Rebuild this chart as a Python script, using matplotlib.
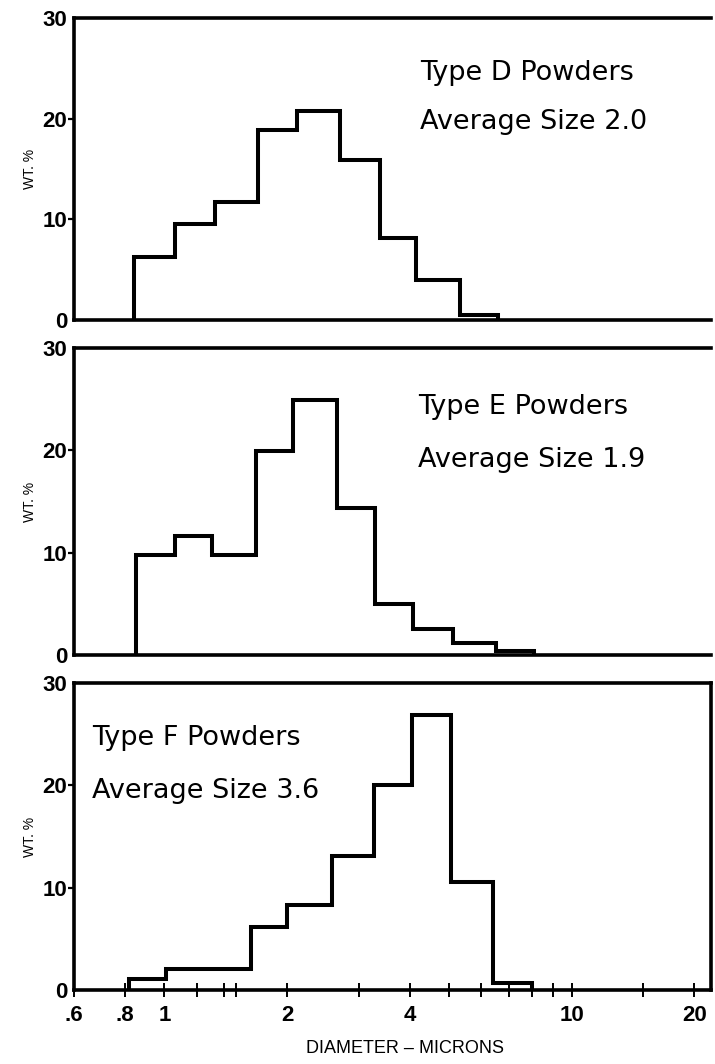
import matplotlib
matplotlib.use('Agg')
import matplotlib.pyplot as plt
from matplotlib.ticker import NullLocator

# bin edges (microns) and wt %
d_edges = [0.84, 1.06, 1.33, 1.70, 2.12, 2.70, 3.38, 4.16, 5.32, 6.60]
d_wt = [6.3, 9.5, 11.7, 18.9, 20.8, 15.9, 8.2, 4.0, 0.5]

e_edges = [0.85, 1.06, 1.31, 1.68, 2.07, 2.66, 3.29, 4.08, 5.11, 6.53, 8.08]
e_wt = [9.8, 11.6, 9.8, 19.9, 24.9, 14.4, 5.0, 2.5, 1.2, 0.4]

f_edges = [0.82, 1.01, 1.63, 2.00, 2.58, 3.27, 4.05, 5.05, 6.40, 8.00]
f_wt = [1.1, 2.1, 6.2, 8.3, 13.1, 20.0, 26.9, 10.6, 0.7]

titles = ['Type D Powders', 'Type E Powders', 'Type F Powders']
subtitles = ['Average Size 2.0', 'Average Size 1.9', 'Average Size 3.6']

x_ticks = [0.6, 0.8, 1, 1.2, 1.4, 1.5, 2, 3, 4, 5, 6, 7, 8, 9, 10, 15, 20]
x_labels = ['.6', '.8', '1', '', '', '', '2', '', '4', '', '', '', '', '', '10', '', '20']
y_ticks = [0, 10, 20, 30]

narrow = ['Liberation Sans', 'DejaVu Sans']

fig = plt.figure(figsize=(7.15, 10.64), dpi=100)

# [left, bottom, width, height], text anchor x/y in axes coords
panels = [
    ([0.1035, 0.6992, 0.891, 0.2838], 0.543, 0.818, 0.656),
    ([0.1035, 0.3844, 0.891, 0.2885], 0.540, 0.808, 0.635),
    ([0.1035, 0.0695, 0.891, 0.2885], 0.028, 0.820, 0.650),
]
data = [(d_edges, d_wt), (e_edges, e_wt), (f_edges, f_wt)]

for i, (rect, tx, ty1, ty2) in enumerate(panels):
    ax = fig.add_axes(rect)
    edges, wt = data[i]
    ax.stairs(wt, edges, baseline=0, color='black', lw=2.9)
    ax.set_xscale('log')
    ax.set_xlim(0.6, 22)
    ax.set_ylim(0, 30)

    for side in ['top', 'left', 'bottom', 'right']:
        ax.spines[side].set_linewidth(2.6)
    if i < 2:
        ax.spines['right'].set_visible(False)

    ax.set_yticks(y_ticks)
    ax.set_yticklabels([str(v) for v in y_ticks], family=narrow,
                       fontweight='bold', fontsize=16)
    ax.tick_params(axis='y', direction='out', length=4, width=1.6, pad=1)
    ticks = ax.yaxis.get_major_ticks()
    ticks[0].tick1line.set_visible(False)
    ticks[-1].tick1line.set_visible(False)
    ax.set_ylabel('WT. %', fontsize=10, family=narrow, labelpad=4)

    ax.xaxis.set_minor_locator(NullLocator())
    if i < 2:
        ax.set_xticks([])
    else:
        ax.set_xticks(x_ticks)
        ax.set_xticklabels(x_labels, family=narrow, fontweight='bold', fontsize=16)
        ax.tick_params(axis='x', direction='inout', length=10, width=1.4, pad=6)
        ax.set_xlabel('DIAMETER \u2013 MICRONS', family=narrow, fontsize=13, labelpad=10)
        ax.xaxis.label.set_x(0.52)

    ax.text(tx, ty1, titles[i], transform=ax.transAxes, fontsize=19.5,
            ha='left', va='center')
    ax.text(tx, ty2, subtitles[i], transform=ax.transAxes, fontsize=19.5,
            ha='left', va='center')

fig.savefig('out.png', dpi=100)
